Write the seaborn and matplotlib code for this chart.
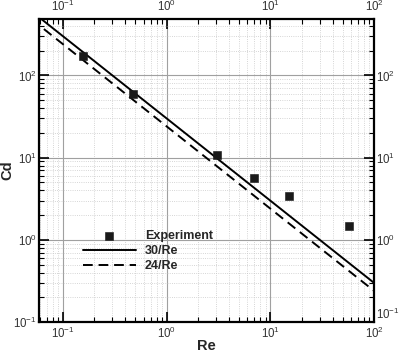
import seaborn as sns
import matplotlib
matplotlib.use('Agg')
import matplotlib.pyplot as plt
import matplotlib.ticker as mticker
import numpy as np
import pandas as pd

# experimental points
re_exp = [0.155, 0.47, 3.05, 6.95, 15.3, 57.0]
cd_exp = [172, 60, 10.8, 5.6, 3.45, 1.48]

# model lines drawn over the axis range
re_line = np.array([0.05, 100.0])
coef = {'30/Re': 30.0, '24/Re': 24.0}

sns.set_style('ticks')
plt.rcParams['font.family'] = ['Liberation Sans', 'DejaVu Sans']
plt.rcParams['mathtext.fontset'] = 'custom'
plt.rcParams['mathtext.rm'] = 'Liberation Sans'
plt.rcParams['mathtext.it'] = 'Liberation Sans:italic'

df_exp = pd.DataFrame({'Re': re_exp, 'Cd': cd_exp})
rows = []
for name, c in coef.items():
    for r in re_line:
        rows.append({'Re': r, 'Cd': c / r, 'model': name})
df_line = pd.DataFrame(rows)

fig = plt.figure(figsize=(4.0, 3.52), dpi=100)
ax = fig.add_axes([0.0975, 0.085, 0.8375, 0.862])

sns.scatterplot(data=df_exp, x='Re', y='Cd', marker='s', s=28, color='#1a1a1a',
                edgecolor='#1a1a1a', ax=ax, label='Experiment', zorder=5)
sns.lineplot(data=df_line[df_line['model'] == '30/Re'], x='Re', y='Cd', color='black',
             lw=1.4, ax=ax, label='30/Re')
sns.lineplot(data=df_line[df_line['model'] == '24/Re'], x='Re', y='Cd', color='black',
             lw=1.4, ls=(0, (5, 3)), ax=ax, label='24/Re')

ax.set_xscale('log')
ax.set_yscale('log')
ax.set_xlim(0.0588, 100)
ax.set_ylim(0.1, 490)

ax.xaxis.set_major_locator(mticker.LogLocator(base=10, numticks=10))
ax.yaxis.set_major_locator(mticker.LogLocator(base=10, numticks=10))
ax.xaxis.set_minor_locator(mticker.LogLocator(base=10, subs=np.arange(2, 10), numticks=20))
ax.yaxis.set_minor_locator(mticker.LogLocator(base=10, subs=np.arange(2, 10), numticks=20))
ax.xaxis.set_minor_formatter(mticker.NullFormatter())
ax.yaxis.set_minor_formatter(mticker.NullFormatter())

ax.grid(which='major', color='#a0a0a0', lw=0.8, ls='-')
ax.grid(which='minor', color='#c8c8c8', lw=0.6, ls=':')
ax.set_axisbelow(True)

ax.tick_params(which='both', direction='in', top=True, right=True,
               labeltop=True, labelright=True, colors='black', labelcolor='#333333')
ax.tick_params(which='major', length=7, width=1.2, labelsize=8.3, pad=1.5)
ax.tick_params(axis='x', which='major', pad=3)
ax.tick_params(which='minor', length=3.5, width=0.8)
for sp in ax.spines.values():
    sp.set_linewidth(1.6)
    sp.set_color('black')

ax.set_xlabel('Re', fontsize=10.5, fontweight='bold', labelpad=-1.5)
ax.set_ylabel('Cd', fontsize=10.5, fontweight='bold', labelpad=-1)

fig.canvas.draw()
# nudge the lowest right-hand label up a little so it clears the 10^2 label
for t in ax.yaxis.get_major_ticks():
    if np.isclose(t.get_loc(), 0.1):
        t.label2.set_va('bottom')

leg = ax.legend(loc='upper left', bbox_to_anchor=(0.115, 0.32), frameon=False,
                prop={'weight': 'bold', 'size': 9}, handlelength=4.3,
                labelspacing=0.25, handletextpad=0.7, borderaxespad=0)

fig.savefig('out.png', dpi=100)
